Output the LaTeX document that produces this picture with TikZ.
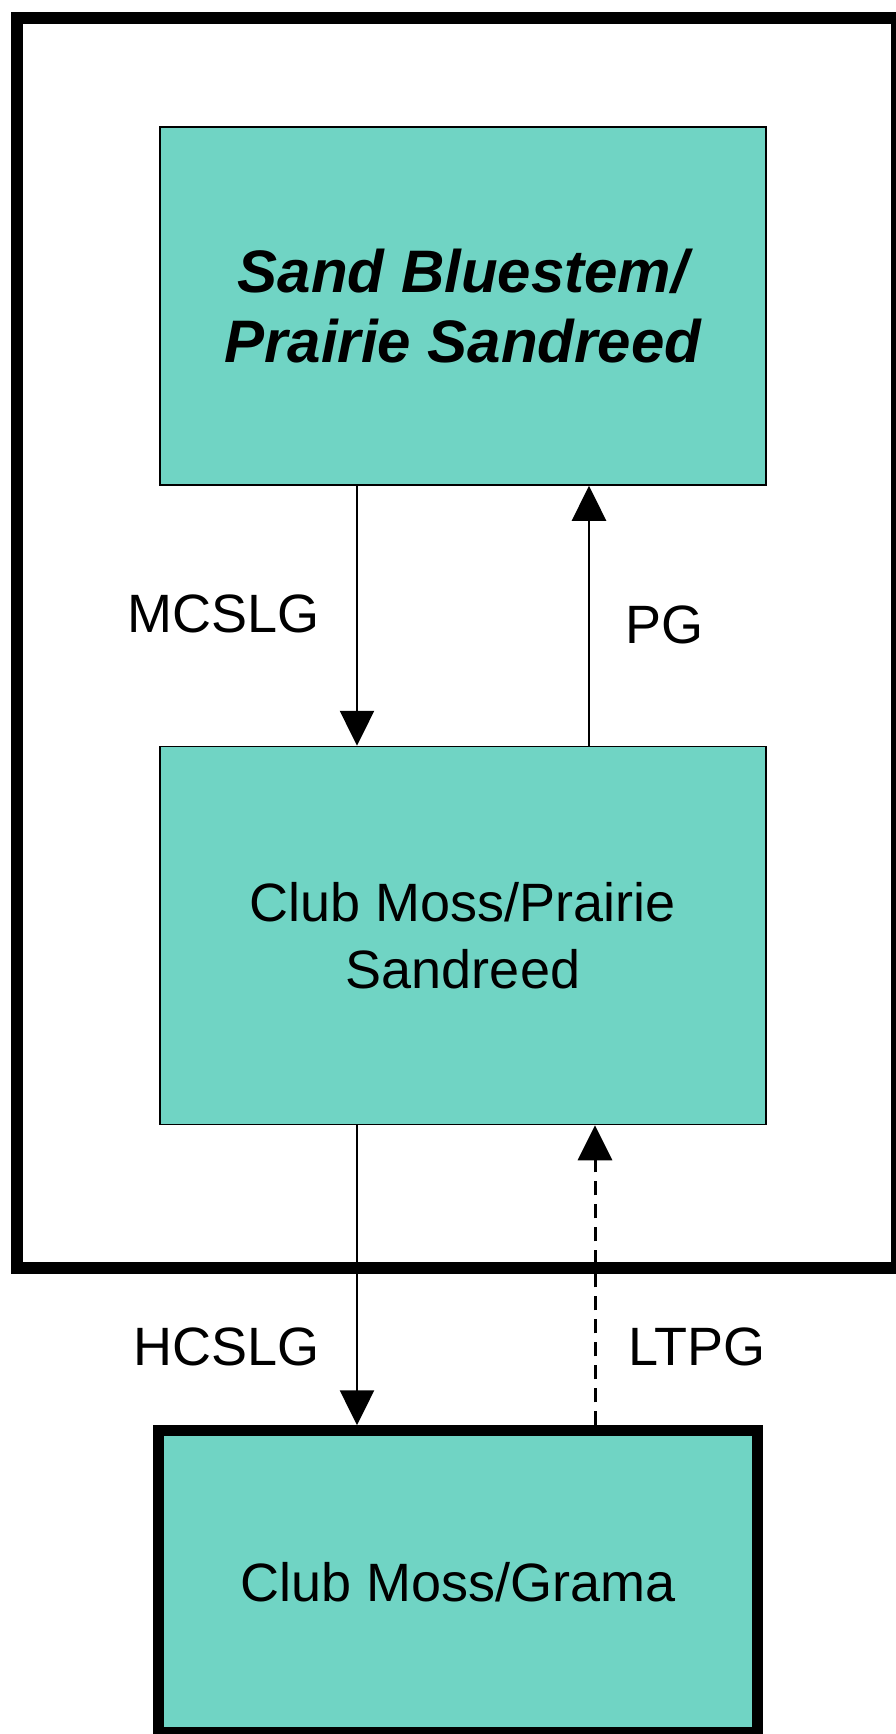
\documentclass[tikz,border=0pt]{standalone}
\usepackage{fontspec}
\setmainfont{Liberation Sans}
\usepackage{xcolor}
\usepackage{tikz}
\usetikzlibrary{arrows.meta,positioning}

\definecolor{seagrass}{RGB}{112,212,196}

\begin{document}
\begin{tikzpicture}[
  x=0.5pt, y=-0.5pt,
  node distance=130pt,
  box/.style={draw, line width=0.75pt, fill=seagrass, align=center, inner sep=0pt,
    minimum width=303pt, font=\fontsize{27}{33.5}\selectfont},
  lbl/.style={inner sep=0pt, font=\fontsize{27}{32}\selectfont},
  flow/.style={line width=1.25pt},
  >={Triangle[width=17pt,length=17.5pt]}
]
\useasboundingbox (0,0) rectangle (895,1734);

% outer frame
\draw[line width=6pt] (17,18) rectangle (897,1268);

\node[box, minimum height=179pt, font=\fontsize{30}{35}\selectfont\bfseries\itshape] (bluestem) at (463,306) {Sand Bluestem/\\Prairie Sandreed};
\node[box, minimum height=189pt, below=of bluestem] (clubmoss) {Club Moss/Prairie\\Sandreed};
\node[box, line width=5.5pt, minimum width=299.5pt, minimum height=151pt, below=150pt of clubmoss, xshift=-2.5pt, anchor=north] (grama) {Club Moss/Grama};

\node[lbl, anchor=east] (mcslg) at (320,614) {MCSLG};
\node[lbl, anchor=west] (pg) at (625,625) {PG};
\node[lbl, anchor=east] (hcslg) at (320,1347) {HCSLG};
\node[lbl, anchor=west] (ltpg) at (628,1347) {LTPG};

\draw[->, flow] ([xshift=-53pt]bluestem.south) -- ([xshift=-53pt]clubmoss.north);
\draw[->, flow] ([xshift=63pt]clubmoss.north) -- ([xshift=63pt]bluestem.south);
\draw[->, flow] ([xshift=-53pt]clubmoss.south) -- ([xshift=-53pt]clubmoss.south |- grama.north);
\draw[->, flow, line width=1.5pt, dash pattern=on 7pt off 4.5pt] ([xshift=66pt]clubmoss.south |- grama.north) -- ([xshift=66pt]clubmoss.south);
\end{tikzpicture}
\end{document}
